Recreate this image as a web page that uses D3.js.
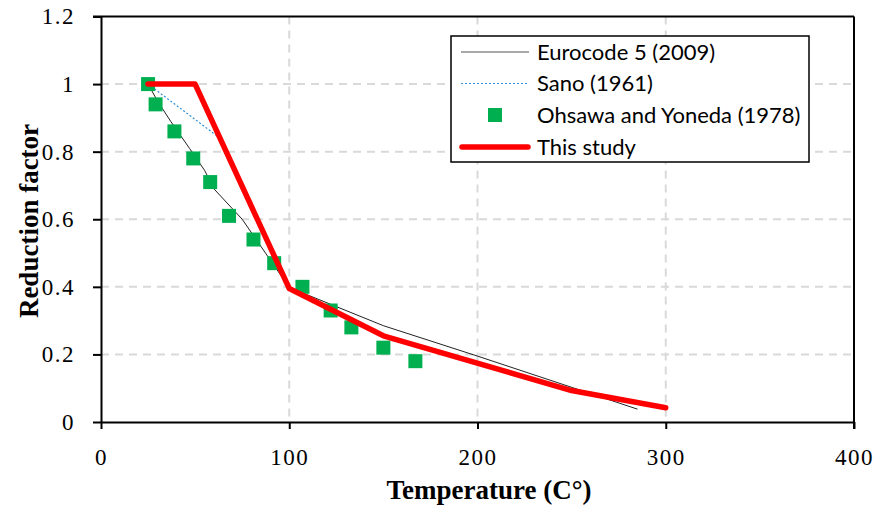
<!DOCTYPE html>
<html><head><meta charset="utf-8">
<script src="https://cdn.jsdelivr.net/npm/d3@7"></script>
<style>body{margin:0;background:#fff}</style></head>
<body><svg id="c" width="886" height="514"></svg>
<script>
const xTicks = [0, 100, 200, 300, 400];
const yTicks = [0, 0.2, 0.4, 0.6, 0.8, 1, 1.2];
const yTickLabels = ["0", "0.2", "0.4", "0.6", "0.8", "1", "1.2"];
const seriesNames = ["Eurocode 5 (2009)", "Sano (1961)", "Ohsawa and Yoneda (1978)", "This study"];

const eurocodeT = [25, 30, 37, 47, 55, 60, 70, 75, 100, 150, 200, 285];
const eurocodeV = [1, 0.95, 0.89, 0.81, 0.745, 0.69, 0.63, 0.6, 0.398, 0.285, 0.195, 0.038];
const sanoT = [25, 62];
const sanoV = [1, 0.845];
const ohsawaT = [25, 29, 39, 49, 58, 68, 81, 92, 107, 122, 133, 150, 167];
const ohsawaV = [1, 0.94, 0.86, 0.78, 0.71, 0.61, 0.54, 0.47, 0.40, 0.33, 0.28, 0.22, 0.18];
const studyT = [25, 50, 100, 150, 250, 300];
const studyV = [1, 1, 0.395, 0.255, 0.093, 0.042];

const svg = d3.select("#c");
const L = 101, R = 854, T = 16.5, B = 422;
const x = d3.scaleLinear().domain([0, 400]).range([L, R]);
const y = d3.scaleLinear().domain([0, 1.2]).range([B, T]);
const serif = "'Liberation Serif', 'Times New Roman', serif";

// grid
const g = svg.append("g");
g.selectAll(".gx").data(xTicks.filter(d => d > 0 && d < 400)).enter().append("line")
  .attr("x1", d => x(d)).attr("x2", d => x(d)).attr("y1", T).attr("y2", B)
  .attr("stroke", "#d9d9d9").attr("stroke-width", 2).attr("stroke-dasharray", "8,6");
g.selectAll(".gy").data(yTicks.filter(d => d > 0 && d < 1.2)).enter().append("line")
  .attr("x1", L).attr("x2", R).attr("y1", d => y(d)).attr("y2", d => y(d))
  .attr("stroke", "#d9d9d9").attr("stroke-width", 2).attr("stroke-dasharray", "8,6");

// axes
const xAxis = svg.append("g").attr("transform", `translate(0,${B})`)
  .call(d3.axisBottom(x).tickValues(xTicks).tickSize(7).tickSizeOuter(0).tickFormat(d3.format("d")));
const yAxis = svg.append("g").attr("transform", `translate(${L},0)`)
  .call(d3.axisLeft(y).tickValues(yTicks).tickSize(8).tickSizeOuter(0).tickFormat((d, i) => yTickLabels[i]));
[xAxis, yAxis].forEach(a => {
  a.attr("font-family", serif).attr("font-size", 23);
  a.select(".domain").attr("stroke", "#000").attr("stroke-width", 2);
  a.selectAll(".tick line").attr("stroke", "#000").attr("stroke-width", 2);
  a.selectAll(".tick text").attr("fill", "#000").attr("font-family", serif).attr("font-size", 23)
    .attr("letter-spacing", 1.5);
});
xAxis.selectAll(".tick text").attr("y", 43).attr("dy", 0);
yAxis.selectAll(".tick text").attr("x", -26);
// top and right border
svg.append("line").attr("x1", L - 8).attr("x2", R).attr("y1", T).attr("y2", T).attr("stroke", "#000").attr("stroke-width", 2);
svg.append("line").attr("x1", R).attr("x2", R).attr("y1", T).attr("y2", B + 7).attr("stroke", "#000").attr("stroke-width", 2);

const line = d3.line().x(d => x(d[0])).y(d => y(d[1]));
const plot = svg.append("g");
plot.append("path").datum(eurocodeT.map((t, i) => [t, eurocodeV[i]])).attr("d", line)
  .attr("fill", "none").attr("stroke", "#222").attr("stroke-width", 1);
plot.append("path").datum(sanoT.map((t, i) => [t, sanoV[i]])).attr("d", line)
  .attr("fill", "none").attr("stroke", "#2e8fd6").attr("stroke-width", 1.2).attr("stroke-dasharray", "2,2");
plot.selectAll(".sq").data(ohsawaT.map((t, i) => [t, ohsawaV[i]])).enter().append("rect")
  .attr("x", d => x(d[0]) - 7).attr("y", d => y(d[1]) - 7).attr("width", 14).attr("height", 14)
  .attr("fill", "#00b050");
plot.append("path").datum(studyT.map((t, i) => [t, studyV[i]])).attr("d", line)
  .attr("fill", "none").attr("stroke", "#ff0000").attr("stroke-width", 5.5)
  .attr("stroke-linecap", "round").attr("stroke-linejoin", "round");

// legend
const lg = svg.append("g");
lg.append("rect").attr("x", 451).attr("y", 36).attr("width", 358).attr("height", 126)
  .attr("fill", "#fff").attr("stroke", "#000").attr("stroke-width", 1.5);
const rows = [52, 83.5, 115, 147];
const font = "Lato, 'Open Sans', sans-serif";
seriesNames.forEach((n, i) => {
  lg.append("text").attr("x", 537).attr("y", rows[i]).attr("dy", "0.35em")
    .attr("font-family", font).attr("font-size", 22).attr("fill", "#000").text(n);
});
lg.append("line").attr("x1", 461).attr("x2", 529).attr("y1", rows[0]).attr("y2", rows[0]).attr("stroke", "#555").attr("stroke-width", 1);
lg.append("line").attr("x1", 461).attr("x2", 529).attr("y1", rows[1]).attr("y2", rows[1]).attr("stroke", "#2e8fd6").attr("stroke-width", 1.2).attr("stroke-dasharray", "2,2");
lg.append("rect").attr("x", 488).attr("y", rows[2] - 7).attr("width", 14).attr("height", 14).attr("fill", "#00b050");
lg.append("line").attr("x1", 462).attr("x2", 528).attr("y1", rows[3]).attr("y2", rows[3]).attr("stroke", "#ff0000").attr("stroke-width", 5.5).attr("stroke-linecap", "round");

// axis titles
svg.append("text").attr("x", 489).attr("y", 499).attr("text-anchor", "middle")
  .attr("font-family", serif).attr("font-weight", "bold").attr("font-size", 27)
  .text("Temperature (C°)");
svg.append("text").attr("transform", "translate(38,221) rotate(-90)").attr("text-anchor", "middle")
  .attr("font-family", serif).attr("font-weight", "bold").attr("font-size", 27)
  .text("Reduction factor");
</script></body></html>
